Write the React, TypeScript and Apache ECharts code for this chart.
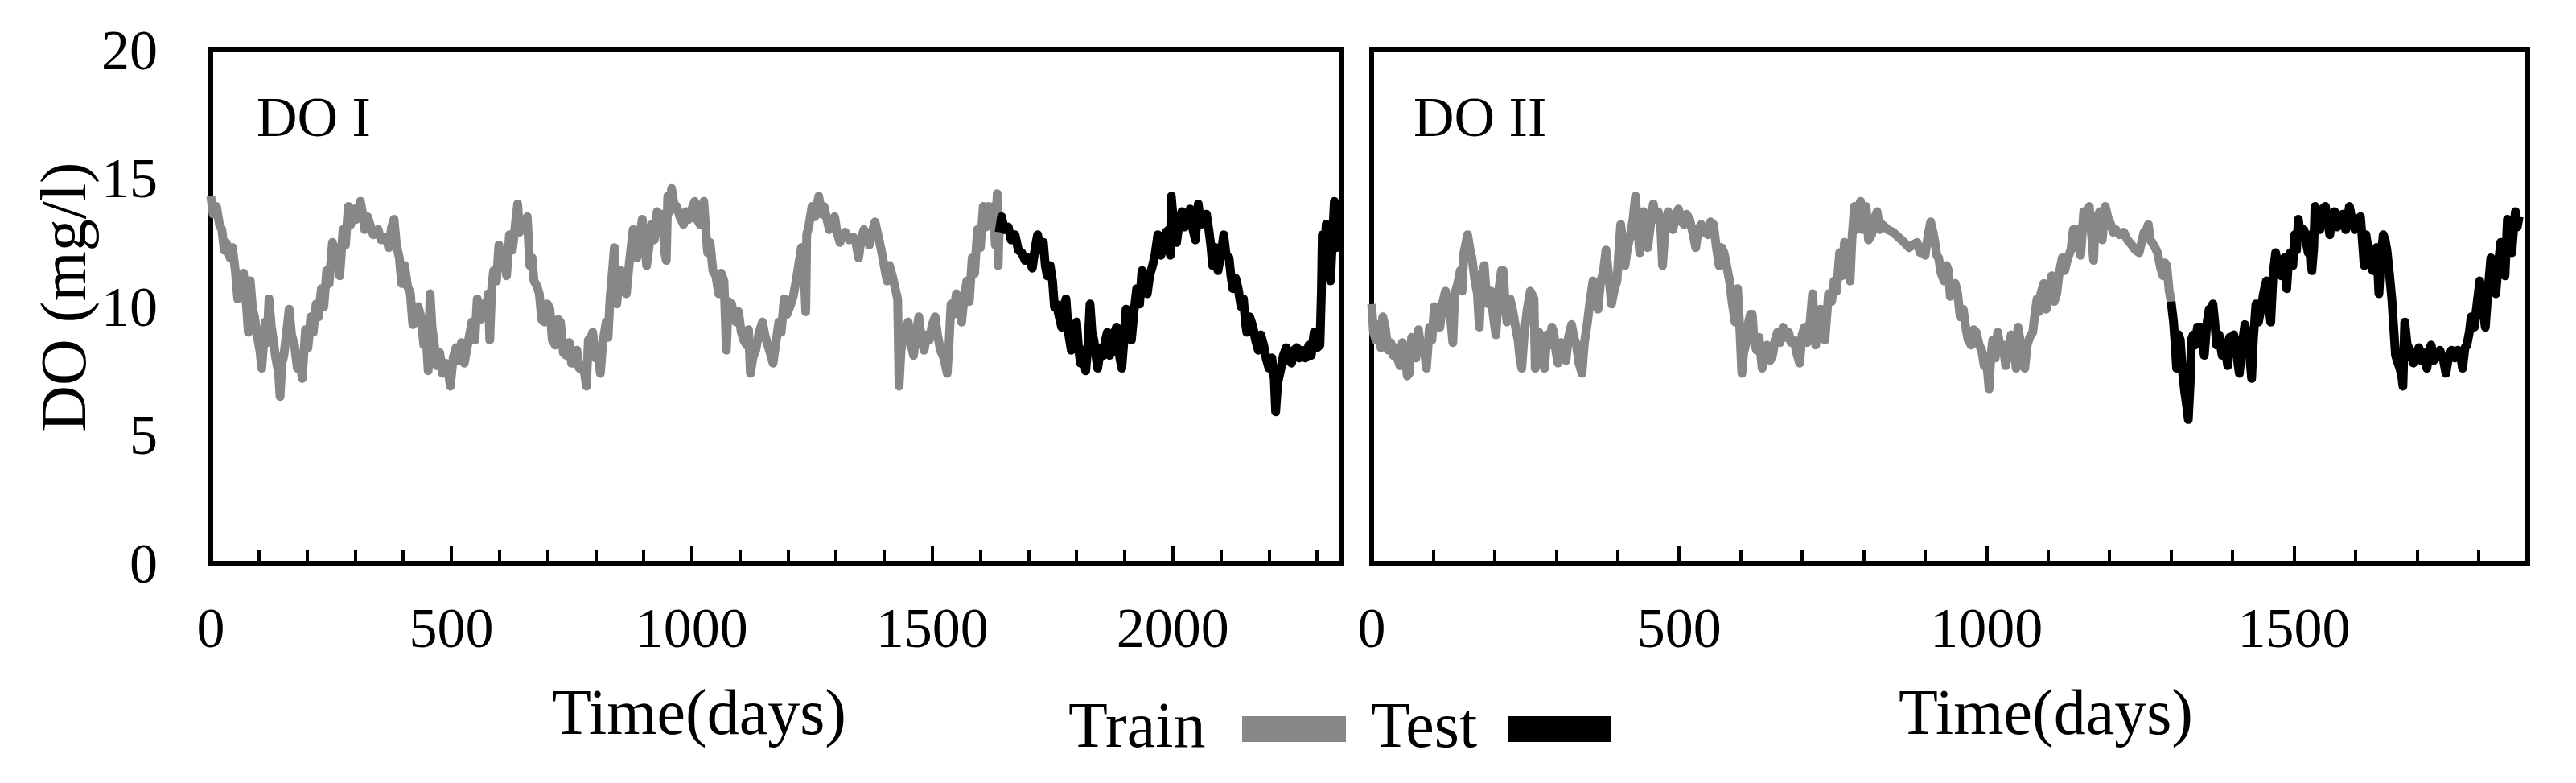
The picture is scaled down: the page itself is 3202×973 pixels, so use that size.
import React, { useEffect, useRef } from "react";
import * as echarts from "echarts";

// ---- data ----
const yTicksMax = 20;
const yInterval = 5;
const xMaxI = 2350;
const xMaxII = 1880;
const xMajor = 500;
const xMinor = 100;
const panelLabels = ["DO I", "DO II"];
const legendNames = ["Train", "Test"];
const xTitle = "Time(days)";
const yTitle = "DO (mg/l)";

const trainI: number[][] = [
  [0,14.3],[5,13.6],[12,13.9],[18,13.2],[23,13.0],[28,12.2],[32,12.5],[40,11.9],[45,12.3],[51,11.4],[56,10.3],[63,10.7],[68,11.3],[74,10.1],[78,9.0],[82,11.0],[87,9.9],[91,9.6],[96,8.9],[102,8.3],[106,7.6],[113,9.4],[117,8.6],[121,10.3],[126,9.2],[130,8.7],[135,8.0],[141,7.4],[144,6.5],[148,7.8],[152,8.1],[157,8.9],[163,9.9],[168,8.9],[174,8.5],[180,7.6],[185,8.1],[190,7.2],[197,9.1],[202,8.4],[208,9.6],[213,9.0],[219,10.1],[224,9.6],[230,10.7],[235,10.0],[241,11.4],[246,10.9],[253,12.5],[258,11.6],[264,12.3],[268,11.2],[275,13.0],[280,12.4],[286,13.9],[291,13.2],[297,13.8],[303,13.4],[311,14.1],[316,13.6],[320,13.0],[326,13.5],[331,13.2],[338,12.8],[348,13.0],[354,12.6],[364,12.7],[370,12.3],[376,13.1],[381,13.4],[386,12.4],[392,11.9],[397,10.9],[403,11.6],[409,10.8],[415,10.5],[420,9.3],[426,9.4],[431,10.0],[437,9.6],[443,8.5],[448,8.7],[452,7.5],[456,10.5],[460,9.2],[465,8.5],[470,7.7],[476,8.2],[482,7.4],[488,7.8],[493,7.6],[498,6.9],[504,8.0],[510,8.4],[516,7.9],[521,8.6],[527,7.8],[532,8.3],[538,8.9],[543,9.4],[549,8.7],[554,10.3],[560,9.5],[565,10.1],[571,9.6],[577,10.5],[580,8.7],[584,10.7],[588,11.4],[594,11.0],[599,12.4],[604,11.6],[610,12.1],[615,11.2],[621,12.8],[627,12.2],[632,13.0],[638,14.0],[642,12.9],[646,13.4],[652,13.0],[658,13.5],[663,11.6],[668,11.9],[672,11.0],[678,10.8],[683,10.5],[688,9.5],[694,9.4],[700,10.1],[705,9.9],[710,8.7],[716,8.5],[722,9.5],[727,9.4],[733,8.2],[739,8.1],[745,8.6],[750,7.8],[755,7.8],[761,8.3],[766,7.6],[772,7.7],[777,7.4],[781,6.9],[785,8.7],[789,8.7],
  [794,9.0],[800,8.0],[805,8.1],[810,7.4],[815,8.6],[822,9.4],[826,8.8],[830,10.3],[836,11.6],[839,12.3],[844,10.1],[848,10.9],[853,11.4],[858,10.6],[864,10.5],[869,11.5],[875,12.5],[878,13.0],[882,12.0],[886,11.9],[891,12.6],[897,13.4],[902,12.7],[906,11.6],[911,12.3],[917,13.2],[922,12.6],[928,13.7],[933,13.2],[938,13.6],[944,12.1],[947,11.8],[950,14.3],[954,13.7],[958,14.6],[963,14.0],[969,13.9],[975,13.5],[983,13.2],[988,13.7],[994,13.4],[1000,13.8],[1006,14.1],[1011,13.4],[1017,13.2],[1021,13.8],[1025,14.1],[1029,13.0],[1033,12.1],[1038,12.5],[1044,11.4],[1050,11.2],[1056,10.5],[1061,11.3],[1067,11.0],[1072,8.3],[1076,10.2],[1083,10.1],[1087,9.6],[1092,9.4],[1097,9.8],[1103,9.0],[1108,8.7],[1114,8.5],[1118,9.1],[1122,7.4],[1127,8.0],[1133,8.3],[1140,9.0],[1147,9.4],[1152,8.9],[1158,8.5],[1163,8.2],[1169,7.8],[1175,8.6],[1181,9.4],[1186,9.0],[1192,10.3],[1198,9.7],[1206,10.1],[1211,10.4],[1217,11.0],[1222,11.6],[1228,12.3],[1233,11.6],[1237,9.8],[1239,12.8],[1244,13.2],[1250,13.9],[1256,13.5],[1264,14.3],[1270,13.6],[1275,13.9],[1281,13.4],[1286,13.0],[1291,13.3],[1297,13.5],[1302,12.9],[1308,12.5],[1313,12.8],[1319,12.9],[1327,12.6],[1336,12.7],[1341,12.5],[1347,11.9],[1352,12.6],[1358,13.0],[1363,12.7],[1369,12.4],[1375,12.9],[1381,13.3],[1387,12.8],[1394,12.2],[1400,11.6],[1406,11.0],[1411,11.6],[1417,11.2],[1422,10.8],[1428,10.3],[1431,6.9],[1435,8.3],[1439,8.7],[1445,9.2],[1450,9.4],[1455,8.6],[1461,8.1],[1466,8.9],[1472,9.6],[1477,8.8],[1483,8.3],[1489,8.9],[1494,8.7],[1500,9.3],[1506,9.6],[1511,8.9],[1517,8.3],[1524,8.0],[1531,7.4],[1535,8.6],[1539,10.1],[1544,9.7],[1550,10.5],[1556,9.9],[1561,9.4],[1566,10.3],
  [1572,11.0],[1577,10.2],[1583,11.9],[1588,11.3],[1594,13.0],[1600,12.3],[1606,13.9],[1611,13.1],[1617,13.9],[1622,13.2],[1627,13.9],[1631,12.4],[1635,14.4],[1637,11.6],[1639,12.9]
];

const testI: number[][] = [
  [1639,12.9],[1644,13.5],[1650,13.0],[1658,13.1],[1664,12.6],[1672,12.8],[1679,12.2],[1686,12.1],[1693,11.8],[1700,11.9],[1708,11.5],[1714,12.3],[1719,12.8],[1725,12.2],[1731,12.5],[1735,11.6],[1739,11.2],[1745,11.6],[1750,11.0],[1754,10.0],[1758,10.1],[1764,9.6],[1769,9.2],[1773,10.0],[1778,10.3],[1783,9.0],[1789,8.3],[1794,9.1],[1800,9.4],[1804,8.4],[1808,7.8],[1813,8.3],[1819,7.5],[1824,8.6],[1828,10.1],[1832,9.0],[1836,8.7],[1840,8.1],[1844,7.6],[1850,8.4],[1856,8.1],[1860,8.7],[1864,9.0],[1869,8.1],[1875,8.3],[1879,9.0],[1883,9.2],[1889,8.1],[1894,7.6],[1899,8.8],[1903,9.9],[1908,9.3],[1914,8.7],[1920,9.9],[1925,10.7],[1931,10.1],[1936,11.4],[1942,11.0],[1947,10.5],[1952,11.2],[1958,11.6],[1963,12.0],[1969,12.8],[1975,12.0],[1981,12.3],[1986,12.9],[1992,13.0],[1995,12.0],[1997,14.3],[2002,13.2],[2008,12.5],[2013,13.2],[2019,13.7],[2025,13.1],[2031,13.4],[2036,13.8],[2042,13.0],[2047,12.6],[2053,14.0],[2058,13.2],[2064,13.4],[2070,13.6],[2075,13.0],[2079,12.4],[2083,11.6],[2089,12.3],[2094,11.4],[2100,12.0],[2106,12.8],[2111,12.0],[2117,11.9],[2121,11.2],[2125,10.7],[2131,11.1],[2136,10.7],[2142,10.0],[2147,10.3],[2151,9.4],[2154,9.0],[2160,9.6],[2167,9.2],[2172,8.7],[2178,8.3],[2183,8.9],[2189,8.5],[2194,8.0],[2200,7.6],[2206,8.0],[2211,7.2],[2214,5.9],[2218,7.0],[2225,7.6],[2230,8.1],[2236,8.4],[2241,7.9],[2247,7.8],[2252,8.3],[2258,8.4],[2263,8.0],[2269,8.3],[2276,8.0],[2283,8.5],[2288,8.1],[2294,9.0],[2300,8.4],[2306,8.5],[2309,10.5],[2311,12.8],[2315,11.6],[2319,13.2],[2324,12.2],[2328,11.0],[2332,12.6],[2336,14.1],[2340,12.3],[2344,13.5]
];

const trainII: number[][] = [
  [0,10.1],[3,9.0],[7,8.7],[11,9.3],[15,8.4],[18,9.6],[22,9.2],[27,8.3],[31,8.6],[35,8.1],[39,8.4],[43,7.9],[46,7.7],[50,8.6],[54,8.1],[58,7.3],[61,7.4],[65,8.8],[68,8.7],[72,8.0],[76,9.1],[80,8.4],[85,8.5],[89,7.6],[94,9.2],[98,8.7],[102,10.0],[106,9.2],[111,9.2],[115,10.1],[120,10.6],[124,10.0],[129,9.4],[132,8.6],[135,10.5],[140,10.9],[144,11.4],[147,10.6],[150,12.1],[156,12.8],[160,12.2],[163,11.9],[168,11.0],[172,10.5],[175,9.2],[179,11.2],[183,11.6],[186,10.6],[190,10.1],[194,10.6],[198,9.6],[202,8.9],[207,10.7],[211,11.4],[214,11.4],[217,10.2],[220,9.4],[225,10.3],[229,9.9],[234,9.2],[238,8.7],[241,8.0],[244,7.6],[248,8.9],[253,9.9],[258,10.6],[262,10.4],[264,10.3],[266,7.6],[269,8.5],[272,9.0],[276,8.2],[281,7.6],[285,8.9],[290,8.5],[293,9.2],[296,9.0],[300,8.2],[303,7.8],[308,8.6],[312,8.3],[316,7.9],[320,8.8],[325,9.3],[329,8.8],[333,8.5],[337,7.8],[342,7.4],[346,8.6],[351,9.4],[355,10.2],[360,11.0],[364,10.4],[368,9.9],[372,10.9],[377,11.4],[381,12.2],[386,11.1],[390,10.1],[395,10.7],[399,11.0],[402,12.2],[405,13.2],[409,12.4],[412,11.6],[416,12.3],[421,12.8],[425,13.4],[429,14.3],[432,13.2],[436,12.1],[439,13.0],[442,13.7],[446,13.0],[449,12.3],[454,13.3],[458,14.0],[462,13.4],[466,13.7],[470,13.2],[473,11.6],[477,13.0],[482,13.7],[486,13.2],[490,13.0],[495,13.6],[499,13.8],[504,13.3],[508,13.2],[512,13.6],[517,13.4],[522,12.9],[527,12.3],[531,13.0],[536,13.2],[541,12.9],[547,12.8],[551,13.3],[556,13.2],[560,12.4],[565,11.6],[569,12.3],[573,12.1],[578,11.5],[582,11.0],[586,10.2],[591,9.4],[593,10.4],[595,10.7],[599,9.0],[602,7.4],[605,8.2],[608,8.5],[612,9.3],[616,9.7],[619,9.7],[622,8.6],[626,8.3],[630,8.8],[635,7.6],[637,8.2],[643,8.5],[648,7.9],[652,8.1],[656,8.7],[660,9.0],[664,8.6],[669,9.2],[673,8.8],[678,9.0],[682,8.6],[687,8.7],[691,8.2],[696,7.8],[700,8.9],[704,9.2],[708,8.6],[713,9.4],[717,10.5],[722,8.5],[726,9.2],[730,9.9],[734,9.0],[737,8.7],[740,9.6],[743,10.5],[748,10.2],[752,11.0],[756,10.6],[761,12.1],[765,11.2],[769,12.5],[773,12.0],[778,11.0],[781,12.6],[785,13.9],[788,13.0],[791,13.7],[795,14.1],[798,13.0],[801,13.5],[804,13.9],[808,12.6],[813,12.8],[817,13.4],[822,13.7],[826,13.0],[830,13.2],[835,13.1],[839,13.0],[848,12.9],[857,12.7],[866,12.5],[874,12.3],[880,12.4],[887,12.5],[892,12.1],[896,12.3],[900,12.0],[905,12.8],[909,13.3],[913,12.9],[916,12.5],[919,12.0],[922,11.9],[926,11.3],[931,11.0],[935,11.6],[938,11.4],[941,10.4],[944,10.7],[949,10.9],[953,10.5],[957,9.6],[962,9.9],[966,9.2],[970,8.7],[975,8.5],[979,9.1],[983,9.0],[988,8.5],[992,8.3],[996,7.7],[1001,7.6],[1004,6.8],[1007,8.1],[1010,8.7],[1014,8.0],[1018,9.0],[1022,8.4],[1027,8.5],[1031,7.7],[1036,8.3],[1040,8.9],[1045,8.5],[1048,7.6],[1051,9.2],[1055,8.6],[1058,8.3],[1062,7.6],[1066,8.5],[1070,8.8],[1075,9.0],[1078,9.6],[1082,10.3],[1085,9.8],[1088,10.5],[1093,10.9],[1097,9.9],[1102,10.6],[1106,11.2],[1110,10.2],[1114,10.5],[1118,11.3],[1123,11.9],[1127,11.4],[1132,11.9],[1137,12.2],[1141,13.0],[1145,12.3],[1149,13.0],[1153,12.0],[1158,13.7],[1163,13.2],[1167,13.9],[1171,12.7],[1174,11.8],[1176,13.0],[1180,13.5],[1184,13.7],[1188,12.6],[1193,13.9],[1197,13.5],[1202,13.2],[1206,12.9],[1210,13.0],[1216,12.8],[1223,12.9],[1229,12.6],[1236,12.4],[1242,12.2],[1248,12.1],[1252,12.5],[1256,12.9],[1260,13.0],[1263,13.2],[1266,12.6],[1269,12.5],[1274,12.3],[1278,12.1],[1283,11.5],[1287,11.2],[1290,11.7],[1293,11.6],[1297,10.6],[1300,10.2]
];

const testII: number[][] = [
  [1300,10.2],[1304,9.4],[1307,8.4],[1309,7.6],[1312,8.9],[1315,8.7],[1318,7.6],[1322,6.7],[1325,6.2],[1328,5.6],[1331,7.0],[1333,8.7],[1336,8.9],[1339,8.5],[1343,9.2],[1348,9.2],[1351,8.6],[1354,8.1],[1358,9.3],[1362,9.9],[1365,9.3],[1368,10.1],[1371,9.4],[1374,8.5],[1378,8.9],[1383,8.1],[1387,8.6],[1392,7.7],[1395,8.8],[1398,8.6],[1402,8.9],[1405,8.6],[1408,7.9],[1411,7.4],[1416,8.6],[1420,9.3],[1424,8.6],[1427,8.3],[1431,7.2],[1434,8.8],[1438,10.1],[1442,9.4],[1446,9.9],[1451,10.6],[1455,11.0],[1458,10.2],[1462,9.4],[1466,11.3],[1470,12.1],[1474,11.5],[1479,11.2],[1484,11.9],[1488,10.7],[1491,11.8],[1494,12.1],[1498,11.6],[1501,12.8],[1504,12.2],[1507,13.4],[1511,12.7],[1516,13.0],[1520,12.5],[1523,12.1],[1526,12.8],[1529,11.4],[1532,12.3],[1534,13.9],[1538,13.2],[1542,13.0],[1546,13.8],[1551,13.9],[1555,13.3],[1558,12.8],[1562,13.5],[1566,13.7],[1570,13.1],[1575,13.2],[1579,13.6],[1584,13.0],[1587,13.4],[1590,13.9],[1594,13.4],[1599,13.0],[1603,13.4],[1608,13.5],[1611,12.6],[1614,11.6],[1617,12.8],[1620,12.3],[1624,12.0],[1628,11.4],[1631,12.0],[1634,12.3],[1636,11.5],[1638,10.5],[1641,11.8],[1645,12.8],[1648,12.6],[1651,12.2],[1655,11.3],[1659,10.3],[1662,9.2],[1665,8.1],[1669,7.8],[1672,7.6],[1675,7.3],[1677,6.9],[1680,9.4],[1684,8.5],[1689,8.3],[1694,7.8],[1699,8.1],[1703,8.4],[1707,7.9],[1711,8.2],[1716,7.6],[1720,8.3],[1723,8.5],[1727,7.9],[1732,8.1],[1737,8.3],[1743,7.9],[1747,7.4],[1751,8.0],[1756,8.3],[1761,8.0],[1766,8.3],[1770,8.2],[1774,7.6],[1778,8.4],[1781,8.5],[1785,9.0],[1788,9.6],[1791,9.4],[1793,9.2],[1797,10.0],[1802,11.0],[1806,10.1],[1811,9.2],[1815,10.5],[1820,11.9],[1824,11.0],[1828,10.5],[1832,11.6],[1836,12.5],[1840,11.8],[1843,11.2],[1847,13.4],[1851,12.6],[1854,12.1],[1857,13.0],[1860,13.7],[1863,13.1],[1866,13.5]
];

const TRAIN_COLOR = "#878787";
const TEST_COLOR = "#000000";
const FONT = "'Liberation Serif', 'Times New Roman', serif";

export default function App() {
  const ref = useRef<HTMLDivElement>(null);

  useEffect(() => {
    document.body.style.margin = "0";
    const chart = echarts.init(ref.current as HTMLDivElement, null, { renderer: "svg" });

    const gridBase = { top: 62, height: 638, show: true, borderColor: "#000", borderWidth: 6, backgroundColor: "transparent" };
    const majorX = (gi: number, max: number) => ({
      type: "value", gridIndex: gi, min: 0, max, interval: xMajor, position: "bottom",
      axisLine: { show: true, onZero: false, lineStyle: { color: "#000", width: 6 } },
      axisTick: { show: true, inside: true, length: 22, lineStyle: { color: "#000", width: 4 } },
      axisLabel: {
        show: true, color: "#000", fontSize: 70, fontFamily: FONT, margin: 45,
        showMaxLabel: false, showMinLabel: true,
        formatter: (v: number) => String(v),
      },
      splitLine: { show: false },
    });
    const minorX = (gi: number, max: number) => ({
      type: "value", gridIndex: gi, min: 0, max, interval: xMinor, position: "bottom",
      axisLine: { show: false },
      axisTick: { show: true, inside: true, length: 17, lineStyle: { color: "#000", width: 4 } },
      axisLabel: { show: false },
      splitLine: { show: false },
    });
    const yAx = (gi: number, labels: boolean) => ({
      type: "value", gridIndex: gi, min: 0, max: yTicksMax, interval: yInterval,
      axisLine: { show: true, lineStyle: { color: "#000", width: 6 } },
      axisTick: { show: false },
      axisLabel: { show: labels, color: "#000", fontSize: 70, fontFamily: FONT, margin: 66, formatter: (v: number) => String(v) },
      splitLine: { show: false },
    });
    const lineSeries = (name: string, data: number[][], xi: number, yi: number, color: string) => ({
      type: "line", name, data, xAxisIndex: xi, yAxisIndex: yi, showSymbol: false, symbol: "none",
      lineStyle: { color, width: 11, join: "round" }, itemStyle: { color }, clip: true,
    });
    const txt = (text: string, x: number, y: number, size: number) => ({
      type: "text", x, y,
      style: { text, fontSize: size, fontFamily: FONT, fill: "#000", align: "left", verticalAlign: "middle" },
    });

    chart.setOption({
      animation: false,
      backgroundColor: "#fff",
      textStyle: { fontFamily: FONT },
      grid: [
        { ...gridBase, left: 262, width: 1405 },
        { ...gridBase, left: 1705, width: 1437 },
      ],
      xAxis: [majorX(0, xMaxI), minorX(0, xMaxI), majorX(1, xMaxII), minorX(1, xMaxII)],
      yAxis: [yAx(0, true), yAx(1, false)],
      series: [
        lineSeries(legendNames[0], trainI, 0, 0, TRAIN_COLOR),
        lineSeries(legendNames[1], testI, 0, 0, TEST_COLOR),
        lineSeries(legendNames[0], trainII, 2, 1, TRAIN_COLOR),
        lineSeries(legendNames[1], testII, 2, 1, TEST_COLOR),
      ],
      graphic: [
        txt(panelLabels[0], 319, 145, 70),
        txt(panelLabels[1], 1757, 145, 70),
        { type: "text", x: 79, y: 369, rotation: Math.PI / 2,
          style: { text: yTitle, fontSize: 80, fontFamily: FONT, fill: "#000", align: "center", verticalAlign: "middle" } },
        txt(xTitle, 686, 885, 80),
        txt(xTitle, 2360, 885, 80),
        txt(legendNames[0], 1328, 901, 80),
        { type: "rect", shape: { x: 1544, y: 890, width: 129, height: 32 }, style: { fill: TRAIN_COLOR } },
        txt(legendNames[1], 1704, 901, 80),
        { type: "rect", shape: { x: 1874, y: 890, width: 128, height: 32 }, style: { fill: TEST_COLOR } },
      ],
    });

    return () => chart.dispose();
  }, []);

  return <div ref={ref} style={{ width: 3202, height: 973 }} />;
}
